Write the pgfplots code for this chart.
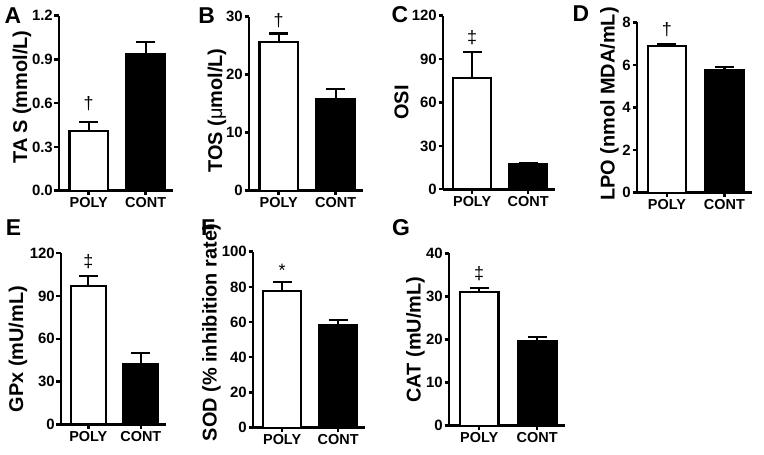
\documentclass[border=0pt]{standalone}
\usepackage{fontspec}
\setmainfont{Liberation Sans}
\usepackage{pgfplots}
\pgfplotsset{compat=1.18}
\newcommand{\tfont}{\bfseries\fontsize{15}{15}\selectfont}
\newcommand{\xfont}{\bfseries\fontsize{14.5}{14.5}\selectfont}
\newcommand{\lfont}{\bfseries\fontsize{20}{20}\selectfont}
\newcommand{\pfont}{\bfseries\fontsize{23}{23}\selectfont}
\newcommand{\dfont}{\fontsize{18}{18}\selectfont}
\pgfplotsset{
  panel/.style={
    scale only axis, axis lines=left, axis line style={-, line width=2.6bp},
    xmin=0.48, xmax=2.48, ymin=0, enlargelimits=false, clip=false,
    xtick={1,2}, xticklabels={POLY,CONT},
    tick align=outside, major tick length=4.5bp, tick style={line width=2.4bp, black},
    /pgf/number format/assume math mode=true,
    yticklabel style={font=\tfont, inner sep=1.5bp},
    xticklabel style={font=\xfont, inner sep=2bp},
    ylabel style={font=\lfont, anchor=center},
    ybar, bar width=0.67, bar shift=0pt,
  },
  eb/.style={error bars/.cd, y dir=plus, y explicit, error mark=|,
    error bar style={line width=2.2bp, black},
    error mark options={line width=2.2bp, mark size=9.5bp, black}},
  polybar/.style={fill=white, draw=black, line width=2.2bp, eb},
  contbar/.style={fill=black, draw=black, line width=2.2bp, eb},
}
\begin{document}
\begin{tikzpicture}
\useasboundingbox (0,0) rectangle (764bp,455bp);
% Panel letters
\node[font=\pfont] at (13bp,439.5bp) {A};
\node[font=\pfont] at (206.7bp,439.5bp) {B};
\node[font=\pfont] at (400bp,440bp) {C};
\node[font=\pfont] at (581bp,441.7bp) {D};
\node[font=\pfont] at (13.5bp,227.5bp) {E};
\node[font=\pfont] at (208bp,227.5bp) {F};
\node[font=\pfont] at (401bp,227.5bp) {G};
% A
\begin{axis}[panel, at={(59bp,264.3bp)}, anchor=south west, width=114bp, height=175bp,
  ymax=1.2, ytick={0,0.3,0.6,0.9,1.2}, yticklabels={0.0,0.3,0.6,0.9,1.2},
  ylabel={TA\kern0.25em S (mmol/L)}, ylabel style={at={(axis description cs:-0.325,0.535)}}]
\addplot[polybar] coordinates {(1,0.41) +- (0,0.06)};
\addplot[contbar] coordinates {(2,0.94) +- (0,0.08)};
\node[font=\dfont] at (axis cs:1,0.60) {†};
\end{axis}
% B
\begin{axis}[panel, at={(249bp,264.3bp)}, anchor=south west, width=114bp, height=174bp,
  ymax=30, ytick={0,10,20,30}, yticklabels={0,10,20,30},
  ylabel={TOS (\mbox{\mdseries μ}mol/L)}, ylabel style={at={(axis description cs:-0.28,0.46)}}]
\addplot[polybar] coordinates {(1,25.7) +- (0,1.4)};
\addplot[contbar] coordinates {(2,15.8) +- (0,1.7)};
\node[font=\dfont] at (axis cs:1,29.4) {†};
\end{axis}
% C
\begin{axis}[panel, at={(443bp,265.7bp)}, anchor=south west, width=112bp, height=173.6bp,
  ymax=120, ytick={0,30,60,90,120}, yticklabels={0,30,60,90,120},
  ylabel={OSI}, ylabel style={at={(axis description cs:-0.37,0.50)}}]
\addplot[polybar] coordinates {(1,77) +- (0,18)};
\addplot[contbar] coordinates {(2,17.5) +- (0,0.6)};
\node[font=\dfont] at (axis cs:1,104.6) {‡};
\end{axis}
% D
\begin{axis}[panel, at={(637bp,262.3bp)}, anchor=south west, width=115bp, height=170.4bp,
  ymax=8, ytick={0,2,4,6,8}, yticklabels={0,2,4,6,8},
  ylabel={LPO (nmol MDA/mL)}, ylabel style={at={(axis description cs:-0.24,0.52)}}]
\addplot[polybar] coordinates {(1,6.9) +- (0,0.08)};
\addplot[contbar] coordinates {(2,5.75) +- (0,0.17)};
\node[font=\dfont] at (axis cs:1,7.64) {†};
\end{axis}
% E
\begin{axis}[panel, at={(61bp,30.7bp)}, anchor=south west, width=105bp, height=171bp,
  ymax=120, ytick={0,30,60,90,120}, yticklabels={0,30,60,90,120},
  ylabel={GPx (mU/mL)}, ylabel style={at={(axis description cs:-0.41,0.44)}}]
\addplot[polybar] coordinates {(1,97) +- (0,7.3)};
\addplot[contbar] coordinates {(2,42) +- (0,8)};
\node[font=\dfont] at (axis cs:1,114.2) {‡};
\end{axis}
% F
\begin{axis}[panel, at={(253bp,27.3bp)}, anchor=south west, width=112bp, height=176bp,
  ymax=100, ytick={0,20,40,60,80,100}, yticklabels={0,20,40,60,80,100},
  ylabel={SOD (\% inhibition rate)}, ylabel style={at={(axis description cs:-0.37,0.54)}}]
\addplot[polybar] coordinates {(1,77.7) +- (0,5)};
\addplot[contbar] coordinates {(2,58.4) +- (0,2.8)};
\node[font=\dfont] at (axis cs:1,89.5) {*};
\end{axis}
% G
\begin{axis}[panel, at={(449bp,29.3bp)}, anchor=south west, width=116bp, height=172.4bp,
  ymax=40, ytick={0,10,20,30,40}, yticklabels={0,10,20,30,40},
  ylabel={CAT (mU/mL)}, ylabel style={at={(axis description cs:-0.29,0.50)}}]
\addplot[polybar] coordinates {(1,31.1) +- (0,0.9)};
\addplot[contbar] coordinates {(2,19.7) +- (0,0.9)};
\node[font=\dfont] at (axis cs:1,35.2) {‡};
\end{axis}
\end{tikzpicture}
\end{document}
